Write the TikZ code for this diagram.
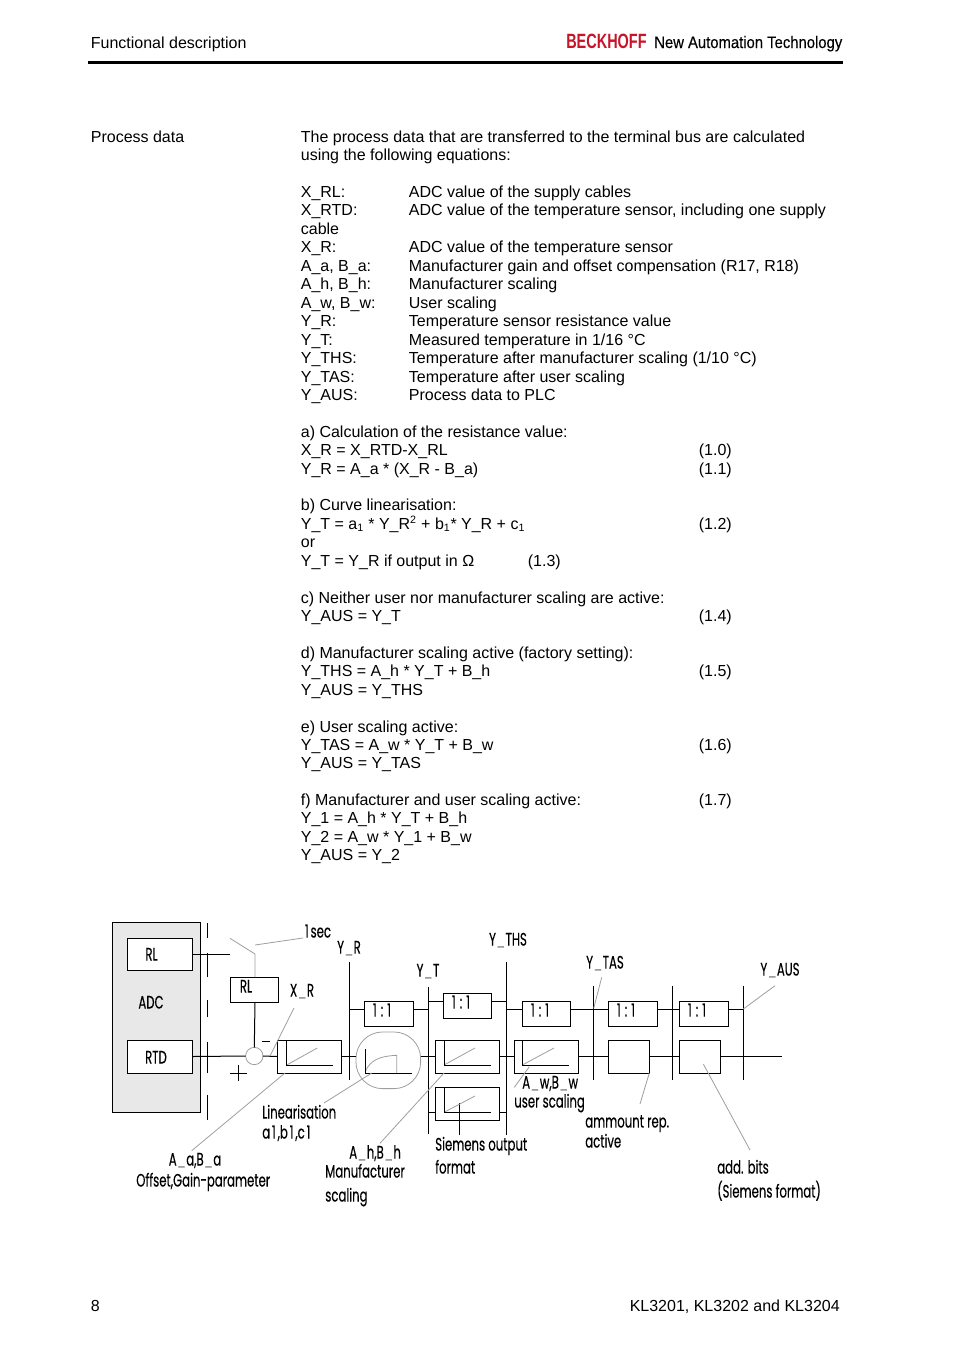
\documentclass[tikz,border=0pt]{standalone}
\usepackage{fontspec}
\setmainfont{Liberation Sans}
\newfontfamily\dgmfont[FakeStretch=0.65,FakeBold=0.25]{Poppins}
\newfontfamily\logofont[FakeStretch=0.70]{Liberation Sans}
\newfontfamily\sloganfont[FakeStretch=0.89,FakeBold=0.25]{Liberation Sans}
\definecolor{leader}{gray}{0.62}
\definecolor{adcfill}{gray}{0.91}
\definecolor{beckred}{RGB}{200,20,40}
\newcounter{autotxt}
\newcommand{\txt}[3]{\stepcounter{autotxt}\node[bodytxt] (t\theautotxt) at (#1-0.4,#2) {#3};}
\newcommand{\dtxt}[3]{\stepcounter{autotxt}\node[dgmtxt] (t\theautotxt) at (#1,#2+2) {#3};}
\newcommand{\dctr}[3]{\stepcounter{autotxt}\node[dgmctr] (t\theautotxt) at (#1,#2+2) {#3};}
\newcommand{\gu}{\hspace{0.4pt}{\color{leader}\_}\hspace{0.4pt}}
\newcommand{\oneone}{1\hspace{3pt}:\hspace{3pt}1}
\newcommand{\tn}{\hspace{1.4pt}}
\newcommand{\bx}[6][]{%
  \pgfmathsetmacro{\bw}{(#4-#2)*0.75}\pgfmathsetmacro{\bh}{(#5-#3)*0.75}%
  \pgfmathsetmacro{\bcx}{(#2+#4)/2}\pgfmathsetmacro{\bcy}{(#3+#5)/2}%
  \node[blockbox,minimum width=\bw pt,minimum height=\bh pt,#1] (#6) at (\bcx,\bcy) {};}
\newcommand{\axes}[6]{% origin x,y top-of-axis right-end diag x,y
  \draw[gline] (#1,#2) -- (#5,#6);
  \draw[bline] (#1,#3) -- (#1,#2) -- (#4,#2);}
\tikzset{
  bodytxt/.style={anchor=base west,inner sep=0pt,font=\fontsize{12}{14}\selectfont},
  dgmtxt/.style={anchor=mid west,inner sep=0pt,font=\dgmfont\fontsize{13.5}{15}\selectfont},
  dgmctr/.style={anchor=mid,inner sep=0pt,font=\dgmfont\fontsize{13.5}{15}\selectfont},
  blockbox/.style={draw=black,line width=0.75pt,inner sep=0pt,outer sep=0pt},
  bline/.style={draw=black,line width=0.75pt},
  gline/.style={draw=leader,line width=0.6pt},
}
\begin{document}
\begin{tikzpicture}[x=0.75pt,y=-0.75pt]
\useasboundingbox (0,0) rectangle (954,1350);
% header
\txt{91}{48}{Functional description}
\stepcounter{autotxt}\node[anchor=base west,inner sep=0pt,text=beckred,font=\logofont\bfseries\fontsize{15.5}{17}\selectfont] (logo) at (566,48) {BECKHOFF};
\stepcounter{autotxt}\node[anchor=base west,inner sep=0pt,font=\sloganfont\fontsize{12.5}{14}\selectfont] (slogan) at (654,48) {New Automation Technology};
\coordinate (ruleL) at (88,62.5); \coordinate (ruleR) at (843,62.5);
\draw[line width=2.2pt] (ruleL) -- (ruleR);
% body
\txt{91}{142}{Process data}
\txt{301}{142}{The process data that are transferred to the terminal bus are calculated}
\txt{301}{160}{using the following equations:}
\txt{301}{197}{X\_RL:}\txt{409}{197}{ADC value of the supply cables}
\txt{301}{215.5}{X\_RTD:}\txt{409}{215.5}{ADC value of the temperature sensor, including one supply}
\txt{301}{234}{cable}
\txt{301}{252.5}{X\_R:}\txt{409}{252.5}{ADC value of the temperature sensor}
\txt{301}{271}{A\_a, B\_a:}\txt{409}{271}{Manufacturer gain and offset compensation (R17, R18)}
\txt{301}{289.5}{A\_h, B\_h:}\txt{409}{289.5}{Manufacturer scaling}
\txt{301}{308}{A\_w, B\_w:}\txt{409}{308}{User scaling}
\txt{301}{326.5}{Y\_R:}\txt{409}{326.5}{Temperature sensor resistance value}
\txt{301}{345}{Y\_T:}\txt{409}{345}{Measured temperature in 1/16 °C}
\txt{301}{363.5}{Y\_THS:}\txt{409}{363.5}{Temperature after manufacturer scaling (1/10 °C)}
\txt{301}{382}{Y\_TAS:}\txt{409}{382}{Temperature after user scaling}
\txt{301}{400.5}{Y\_AUS:}\txt{409}{400.5}{Process data to PLC}
\txt{301}{437}{a) Calculation of the resistance value:}
\txt{301}{455}{X\_R = X\_RTD-X\_RL}\txt{699}{455}{(1.0)}
\txt{301}{474}{Y\_R = A\_a * (X\_R - B\_a)}\txt{699}{474}{(1.1)}
\txt{301}{510}{b) Curve linearisation:}
\txt{301}{529}{Y\_T = a\textsubscript{1} * Y\_R\textsuperscript{2} + b\textsubscript{1}* Y\_R + c\textsubscript{1}}\txt{699}{529}{(1.2)}
\txt{301}{547}{or}
\txt{301}{566}{Y\_T = Y\_R if output in Ω}\txt{528}{566}{(1.3)}
\txt{301}{603}{c) Neither user nor manufacturer scaling are active:}
\txt{301}{621}{Y\_AUS = Y\_T}\txt{699}{621}{(1.4)}
\txt{301}{658}{d) Manufacturer scaling active (factory setting):}
\txt{301}{676}{Y\_THS = A\_h * Y\_T + B\_h}\txt{699}{676}{(1.5)}
\txt{301}{695}{Y\_AUS = Y\_THS}
\txt{301}{732}{e) User scaling active:}
\txt{301}{750}{Y\_TAS = A\_w * Y\_T + B\_w}\txt{699}{750}{(1.6)}
\txt{301}{768.5}{Y\_AUS = Y\_TAS}
\txt{301}{805}{f) Manufacturer and user scaling active:}\txt{699}{805}{(1.7)}
\txt{301}{823}{Y\_1 = A\_h * Y\_T + B\_h}
\txt{301}{842}{Y\_2 = A\_w * Y\_1 + B\_w}
\txt{301}{860}{Y\_AUS = Y\_2}
% footer
\txt{91}{1311}{8}
\stepcounter{autotxt}\node[bodytxt,anchor=base east] (foot) at (840,1311) {KL3201, KL3202 and KL3204};
%% diagram
\bx[fill=adcfill]{112}{922}{200.7}{1112}{adc}
\bx[fill=white]{127.3}{938}{192.7}{970}{rlbox}
\bx[fill=white]{127.3}{1040}{192.7}{1073}{rtdbox}
\bx{230.3}{977}{278.7}{1002}{rlsmall}
\bx{277.3}{1040}{341.3}{1073}{lin}
\bx{364.3}{1001.3}{413.7}{1026.3}{oa}
\bx{443.3}{993.3}{491.3}{1018.3}{ob}
\bx{522.3}{1001.3}{570.3}{1026.3}{oc}
\bx{608.3}{1001.3}{657.7}{1026.3}{od}
\bx{679.3}{1001.3}{728.3}{1026.3}{oe}
\bx{435.3}{1040.3}{499.3}{1073.3}{mfr}
\bx{435.3}{1087.3}{499.3}{1120.3}{sie}
\bx{514.3}{1040.3}{578.3}{1073.3}{usr}
\bx{608.3}{1040.3}{649.7}{1073.3}{amm}
\bx{679.3}{1040.3}{720.3}{1073.3}{add}
\node[draw=leader,line width=0.6pt,circle,minimum size=13pt,inner sep=0pt,outer sep=0pt] (sum) at (254.3,1056) {};
\node[draw=leader,line width=0.6pt,rounded corners=20pt,minimum width=48.5pt,minimum height=42.5pt,inner sep=0pt,outer sep=0pt] (curve) at (388.3,1060.3) {};
% isolation barrier
\foreach \n/\a/\b in {1/923/938,2/953/977,3/1000/1017,4/1042/1073,5/1095/1120}{
  \coordinate (iso\n a) at (207.3,\a); \coordinate (iso\n b) at (207.3,\b);
  \draw[bline] (iso\n a) -- (iso\n b);}
% buses
\coordinate (yrT) at (349.3,961.7); \coordinate (yrB) at (349.3,1080);
\coordinate (ytT) at (428.3,986.7); \coordinate (ytB) at (428.3,1134);
\coordinate (ythsT) at (506.3,962.3); \coordinate (ythsB) at (506.3,1135);
\coordinate (ytasT) at (593.7,986); \coordinate (ytasB) at (593.7,1080);
\coordinate (yxT) at (672.3,986); \coordinate (yxB) at (672.3,1080);
\coordinate (yausT) at (743.3,986); \coordinate (yausB) at (743.3,1080);
\draw[bline] (yrT) -- (yrB) (ytT) -- (ytB) (ythsT) -- (ythsB) (ytasT) -- (ytasB) (yxT) -- (yxB) (yausT) -- (yausB);
% switch and feedback
\coordinate (swa) at (230,938.3); \coordinate (swb) at (255,954); \coordinate (swend) at (230,954);
\coordinate (swmid) at (255,945); \coordinate (seclab) at (303,938);
\draw[bline] (rlbox.east |- swend) -- (swend);
\draw[gline] (swa) -- (swb) -- (swb |- rlsmall.north);
\draw[gline] (swmid) -- (seclab);
\draw[bline] (swb |- rlsmall.south) -- (sum.north);
% main line
\draw[bline] (rtdbox.east) -- (sum.west);
\draw[bline] (sum.east) -- (lin.west);
\draw[bline] (lin.east) -- (curve.west |- lin.east);
\draw[bline] (curve.east |- mfr.west) -- (mfr.west);
\draw[bline] (mfr.east) -- (usr.west);
\draw[bline] (usr.east) -- (amm.west);
\draw[bline] (amm.east) -- (add.west);
\coordinate (mainEnd) at (781.7,1056.8);
\draw[bline] (add.east) -- (mainEnd);
% output boxes row
\coordinate (lva) at (0,1009.3); \coordinate (lvb) at (0,1001);
\draw[bline] (yrT |- lva) -- (oa.west |- lva) (oa.east |- lva) -- (ytT |- lva);
\draw[bline] (ytT |- lvb) -- (ob.west |- lvb) (ob.east |- lvb) -- (ythsT |- lvb);
\draw[bline] (ythsT |- lva) -- (oc.west |- lva) (oc.east |- lva) -- (od.west |- lva);
\draw[bline] (od.east |- lva) -- (oe.west |- lva) (oe.east |- lva) -- (yausT |- lva);
% Siemens box stubs
\coordinate (lvc) at (0,1112.3);
\draw[bline] (ytT |- lvc) -- (sie.west |- lvc) (sie.east |- lvc) -- (ythsT |- lvc);
\coordinate (sieT) at (459.3,1103); \coordinate (sieB) at (459.3,1135);
\draw[bline] (sieT) -- (sieB);
% plus, minus
\coordinate (pL) at (230,1073); \coordinate (pR) at (246.5,1073);
\coordinate (pT) at (238.3,1065); \coordinate (pB) at (238.3,1081);
\draw[bline] (pL) -- (pR) (pT) -- (pB);
\coordinate (mL) at (262,1041); \coordinate (mR) at (270,1041);
\draw[bline] (mL) -- (mR);
% glyphs inside boxes
\axes{286.7}{1065}{1040}{332.7}{317.3}{1048}
\axes{444}{1065}{1040.3}{491}{475}{1048}
\axes{444}{1112.3}{1087.3}{491}{475}{1096}
\axes{522.3}{1065}{1040.3}{569}{554}{1048}
\draw[gline] (365.3,1071.7) .. controls (370,1060) and (380,1056) .. (396.7,1055.3) -- (396.7,1073);
\draw[bline] (365.3,1049) -- (365.3,1073) -- (411.7,1073);
% leaders
\foreach \n/\ax/\ay/\bx/\by in {xr/294/1008/270/1056,linz/371.7/1073/324/1103,aa/285/1073/191.7/1150.7,ah/444/1073/380/1143.3,tas/601.7/977.3/593.7/1008.3,aus/743.3/1009/775/985.7,amr/649.3/1073/640/1104,ad/703.3/1064/750/1150,aw/529.3/1066.7/514.3/1087.3}{
  \coordinate (l\n a) at (\ax,\ay); \coordinate (l\n b) at (\bx,\by);
  \draw[gline] (l\n a) -- (l\n b);}
% diagram labels
\dctr{318}{932}{1\tn sec}\dctr{349}{948}{Y\gu R}\dctr{428}{971}{Y\gu T}\dctr{508}{940}{Y\gu THS}
\dctr{605}{963}{Y\gu TAS}\dctr{780}{970}{Y\gu AUS}\dctr{302}{991}{X\gu R}
\dctr{151.5}{955}{RL}\dctr{151}{1003}{ADC}\dctr{156}{1058}{RTD}\dctr{246}{987}{RL}
\dctr{382}{1011}{\oneone}\dctr{461}{1003}{\oneone}\dctr{540}{1011}{\oneone}\dctr{626}{1011}{\oneone}\dctr{697}{1011}{\oneone}
\dtxt{262}{1113}{Linearisation}\dtxt{262}{1133}{a\tn 1\tn,b\tn 1\tn,c\tn 1}
\dctr{195}{1160}{A\gu a,B\gu a}\dtxt{136}{1181}{Offset,Gain-parameter}
\dtxt{349}{1153}{A\gu h,B\gu h}\dtxt{325}{1172}{Manufacturer}\dtxt{325}{1196}{scaling}
\dtxt{435}{1145}{Siemens output}\dtxt{435}{1168}{format}
\dtxt{522}{1083}{A\gu w,B\gu w}\dtxt{514}{1102}{user scaling}
\dtxt{585}{1122}{ammount rep.}\dtxt{585}{1142}{active}
\dtxt{717}{1168}{add. bits}\dtxt{717}{1192}{(Siemens format)}
\end{tikzpicture}
\end{document}
